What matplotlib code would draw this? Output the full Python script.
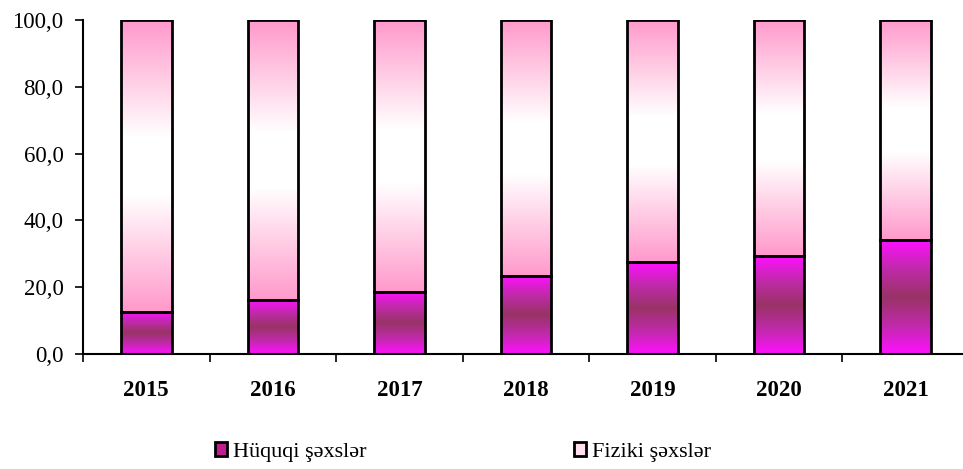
import matplotlib
matplotlib.use("Agg")
import matplotlib.pyplot as plt
import numpy as np
from matplotlib.colors import LinearSegmentedColormap
from matplotlib.patches import Rectangle

years = ["2015", "2016", "2017", "2018", "2019", "2020", "2021"]
huquqi = [12.6, 16.2, 18.6, 23.5, 27.4, 29.3, 34.0]
fiziki = [100 - v for v in huquqi]
series_names = ["Hüquqi şəxslər", "Fiziki şəxslər"]

plt.rcParams['font.family'] = ['Liberation Serif', 'DejaVu Serif']

fig = plt.figure(figsize=(9.63, 4.69), dpi=100)
ax = fig.add_axes([83/963, 1 - 354/469, 886/963, 334/469])

cmap_h = LinearSegmentedColormap.from_list("h", ["#FF10FF", "#C02AAA", "#993366", "#C02AAA", "#FF10FF"])
cmap_f = LinearSegmentedColormap.from_list("f", ["#FF99CC", "#FFCCE4", "#FFFFFF", "#FFFFFF", "#FFCCE4", "#FF99CC"])
grad = np.linspace(0, 1, 256).reshape(-1, 1)

x = np.arange(len(years))
w = 0.4
b1 = ax.bar(x, huquqi, w, color="none", edgecolor="black", linewidth=2, zorder=3)
b2 = ax.bar(x, fiziki, w, bottom=huquqi, color="none", edgecolor="black", linewidth=2, zorder=3)

for bars, cm in ((b1, cmap_h), (b2, cmap_f)):
    for r in bars:
        x0, y0 = r.get_x(), r.get_y()
        ax.imshow(grad, cmap=cm, aspect="auto", origin="lower",
                  extent=(x0, x0 + r.get_width(), y0, y0 + r.get_height()), zorder=2)

ax.set_xlim(-0.5, len(years) - 0.5)
ax.set_ylim(0, 100)
ax.set_yticks(np.arange(0, 101, 20))
ax.set_yticklabels([f"{v:.1f}".replace(".", ",") for v in np.arange(0, 101, 20)], fontsize=16.5)
ax.set_xticks(x)
ax.set_xticklabels(years, fontsize=16.5, fontweight="bold")
ax.set_xticks(np.arange(-0.5, len(years)), minor=True)
ax.tick_params(axis="x", which="major", length=0, pad=19)
ax.tick_params(axis="x", which="minor", length=6, width=1.2, direction="out")
ax.tick_params(axis="y", length=6, width=1.2, direction="out", pad=8)
for s in ("top", "right"):
    ax.spines[s].set_visible(False)
ax.spines["left"].set_linewidth(1.5)
ax.spines["bottom"].set_linewidth(1.5)

handles = [Rectangle((0, 0), 1, 1, facecolor="#C0208F", edgecolor="black", linewidth=2),
           Rectangle((0, 0), 1, 1, facecolor="#FFE0EE", edgecolor="black", linewidth=2)]
for hnd, name, xp in zip(handles, series_names, (215/963, 574/963)):
    fig.legend([hnd], [name], loc="center left", bbox_to_anchor=(xp, 1 - 452/469),
               frameon=False, fontsize=16, handlelength=0.55, handleheight=0.55,
               handletextpad=0.25, borderaxespad=0, borderpad=0)

fig.savefig("out.png", dpi=100)
